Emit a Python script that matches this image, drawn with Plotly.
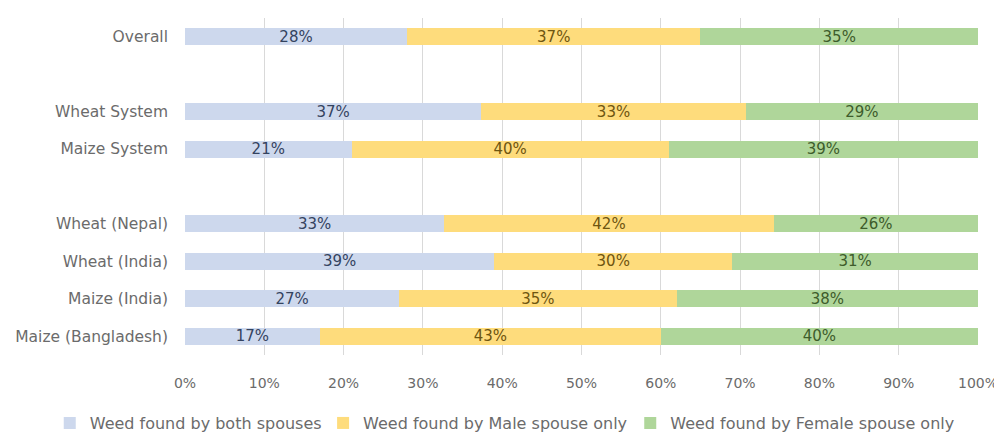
import plotly.graph_objects as go

categories = ["Overall", "Wheat System", "Maize System", "Wheat (Nepal)",
              "Wheat (India)", "Maize (India)", "Maize (Bangladesh)"]
both = [28, 37, 21, 33, 39, 27, 17]
male = [37, 33, 40, 42, 30, 35, 43]
female = [35, 29, 39, 26, 31, 38, 40]
series_names = ["Weed found by both spouses", "Weed found by Male spouse only",
                "Weed found by Female spouse only"]
axis_order = ["Overall", " ", "Wheat System", "Maize System", "  ",
              "Wheat (Nepal)", "Wheat (India)", "Maize (India)", "Maize (Bangladesh)"]
x_ticks = [0, 10, 20, 30, 40, 50, 60, 70, 80, 90, 100]

colors = ["#cdd8ed", "#fedc7c", "#afd69a"]
text_colors = ["#34435f", "#6e5510", "#3d5c2b"]
legend_ids = ["legend", "legend2", "legend3"]
legend_x = [0.042, 0.317, 0.626]
FONT = "DejaVu Sans"
GREY = "#6b6b6b"

fig = go.Figure()
for name, vals, c, tc, lid in zip(series_names, [both, male, female], colors,
                                  text_colors, legend_ids):
    fig.add_trace(go.Bar(
        y=categories, x=vals, name=name, orientation="h", legend=lid,
        marker=dict(color=c, line=dict(width=0)),
        text=[f"{v}%" for v in vals], textposition="inside",
        insidetextanchor="middle", textangle=0, constraintext="none",
        textfont=dict(color=tc, size=15, family=FONT),
        hoverinfo="skip",
    ))

legend_common = dict(orientation="h", xref="container", xanchor="left",
                     yref="container", y=0.028, yanchor="middle",
                     font=dict(size=16, color=GREY, family=FONT),
                     itemwidth=30, bgcolor="rgba(0,0,0,0)")
fig.update_layout(
    barmode="stack", barnorm="percent", bargap=0.545,
    width=994, height=427,
    margin=dict(l=177, r=24, t=10, b=80, autoexpand=False),
    paper_bgcolor="white", plot_bgcolor="white",
    font=dict(family=FONT, size=14, color=GREY),
    uniformtext=dict(minsize=14, mode="show"),
    legend=dict(x=legend_x[0], **legend_common),
    legend2=dict(x=legend_x[1], **legend_common),
    legend3=dict(x=legend_x[2], **legend_common),
    showlegend=True,
)
fig.update_xaxes(range=[0, 100], tickvals=x_ticks, ticktext=[f"{t}%" for t in x_ticks],
                 showgrid=True, gridcolor="#d9d9d9", gridwidth=1, zeroline=False,
                 showline=False, ticks="", ticklabelstandoff=18,
                 tickfont=dict(size=14, color=GREY, family=FONT))
fig.update_yaxes(type="category", categoryorder="array", categoryarray=axis_order,
                 range=[8.5, -0.5], showgrid=False, showline=False, ticks="",
                 ticklabelstandoff=16, tickfont=dict(size=15.5, color=GREY, family=FONT))

fig.write_html("out.html")
